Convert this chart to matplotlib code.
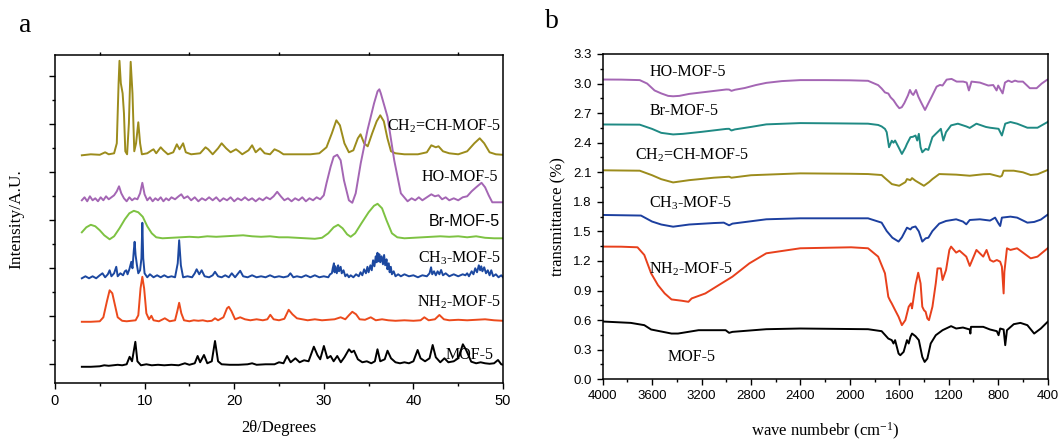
import matplotlib
matplotlib.use('Agg')
import matplotlib.pyplot as plt
from matplotlib.ticker import MultipleLocator

plt.rcParams['mathtext.fontset'] = 'custom'
plt.rcParams['mathtext.rm'] = 'Liberation Serif'
plt.rcParams['mathtext.it'] = 'Liberation Serif:italic'
plt.rcParams['mathtext.bf'] = 'Liberation Serif:bold'

SERIF = 'Liberation Serif'
SANS = 'Liberation Sans'

# ---------------- Panel a: XRD (2theta, intensity a.u.) ----------------
xrd_ch2ch = [(3.0, 228), (4.0, 229), (5.0, 228.5), (5.6, 231), (6.0, 229), (6.6, 230), (6.9, 240), (7.1, 300),
             (7.2, 322.5), (7.35, 300), (7.55, 290), (7.7, 270), (7.85, 232), (8.05, 229), (8.25, 260),
             (8.45, 321.5), (8.65, 290), (8.85, 232), (9.05, 240), (9.3, 261), (9.5, 240), (9.7, 229),
             (10.3, 230), (10.8, 233), (11.0, 234), (11.3, 230), (11.8, 236), (12.1, 233), (12.6, 229),
             (13.2, 231), (13.6, 239), (13.9, 234), (14.3, 240), (14.6, 231), (15.2, 229), (16.2, 230),
             (16.8, 236), (17.1, 234), (17.6, 229), (18.2, 235), (18.6, 240), (19.1, 235), (19.6, 231),
             (20.2, 234), (20.5, 232), (20.9, 229), (21.6, 233), (22.0, 238), (22.4, 231), (22.9, 235),
             (23.4, 230), (24.0, 229), (24.5, 234), (25.0, 232), (25.5, 229), (27.0, 229), (28.5, 229),
             (29.5, 230), (30.3, 236), (30.9, 250), (31.4, 263), (31.8, 258), (32.3, 240), (32.8, 231),
             (33.3, 233), (33.8, 245), (34.1, 249), (34.5, 240), (34.9, 237), (35.4, 250), (35.9, 262),
             (36.3, 268), (36.7, 262), (37.1, 245), (37.5, 232), (38.0, 230), (39.0, 229), (40.5, 229),
             (41.5, 231), (42.0, 238), (42.5, 236), (42.8, 237), (43.3, 232), (44.0, 230), (45.0, 229),
             (46.0, 232), (46.8, 240), (47.4, 245), (47.9, 240), (48.5, 231), (49.2, 229), (50.0, 228.5)]

xrd_ho = [(3.0, 183), (3.3, 186), (3.6, 182), (3.9, 187), (4.2, 183), (4.5, 185), (4.8, 182), (5.1, 186),
          (5.4, 183), (5.7, 187), (6.0, 184), (6.3, 186), (6.6, 188), (6.9, 192), (7.15, 197), (7.4, 190),
          (7.7, 185), (8.0, 182), (8.3, 186), (8.6, 183), (8.9, 185), (9.2, 184), (9.5, 190), (9.75, 200.5),
          (10.0, 189), (10.3, 183), (10.6, 186), (10.9, 182), (11.2, 185), (11.5, 183), (11.8, 186),
          (12.1, 182), (12.4, 185), (12.7, 183), (13.0, 186), (13.4, 184), (13.8, 187), (14.1, 189),
          (14.4, 185), (14.8, 187), (15.2, 183), (15.6, 186), (16.0, 182), (16.4, 185), (16.8, 183),
          (17.2, 186), (17.6, 183), (18.0, 186), (18.4, 182), (18.8, 185), (19.2, 183), (19.6, 186),
          (20.0, 182), (20.4, 185), (20.8, 183), (21.2, 186), (21.6, 183), (22.0, 185), (22.4, 182),
          (22.8, 185), (23.2, 183), (23.6, 186), (24.0, 184), (24.4, 187), (24.8, 191.5), (25.2, 187),
          (25.6, 183), (26.0, 185), (26.4, 182), (26.8, 185), (27.2, 183), (27.6, 186), (28.0, 182),
          (28.4, 185), (28.8, 183), (29.2, 186), (29.6, 184), (30.0, 188), (30.3, 200), (30.76, 216.5),
          (31.1, 226.5), (31.5, 228.5), (31.88, 223), (32.25, 203), (32.8, 183), (33.18, 180.5),
          (33.56, 190), (34.12, 220), (34.87, 253), (35.61, 280), (36.0, 292), (36.2, 294), (36.36, 290),
          (37.11, 266.5), (37.86, 223), (38.6, 190), (39.35, 182), (39.8, 185), (40.2, 183), (40.6, 186),
          (41.0, 183), (41.5, 186), (42.0, 189), (42.4, 187), (42.8, 188), (43.2, 184), (43.6, 186),
          (44.0, 183), (44.5, 185), (45.0, 183), (45.5, 186), (46.0, 187), (46.5, 192), (47.0, 196),
          (47.6, 200.5), (48.0, 196), (48.4, 188), (48.8, 181), (49.3, 181), (50.0, 181)]

xrd_br = [(3.0, 151), (3.5, 156), (4.0, 158.5), (4.5, 157), (5.0, 153), (5.5, 148), (6.1, 144), (6.6, 147),
          (7.2, 155), (7.8, 164), (8.3, 170), (8.8, 172.5), (9.3, 171), (9.8, 166.5), (10.3, 157),
          (10.8, 150), (11.3, 146), (12.0, 145), (13.0, 145.5), (14.0, 146), (15.0, 146.5), (16.0, 146),
          (17.0, 147), (18.0, 146.5), (19.0, 147), (20.0, 147.5), (21.0, 148), (22.0, 147), (23.0, 146.5),
          (24.0, 147), (25.0, 146), (26.0, 146), (27.0, 145.5), (28.0, 145), (29.0, 144.5), (29.8, 145.5),
          (30.5, 150), (31.1, 156), (31.6, 158.5), (32.1, 155), (32.6, 149), (33.0, 146.5), (33.5, 150),
          (34.2, 160), (35.0, 171), (35.6, 177.5), (36.0, 179.5), (36.5, 175), (37.0, 163), (37.6, 150),
          (38.2, 146), (39.0, 145), (40.0, 145.5), (41.0, 146), (42.0, 146.5), (43.0, 147), (44.0, 146.5),
          (45.0, 147), (46.0, 146), (47.0, 147), (48.0, 145.5), (49.0, 145), (50.0, 145)]

xrd_ch3 = [(3.0, 105), (3.4, 107), (3.8, 105), (4.2, 107), (4.6, 105), (5.0, 108), (5.3, 110), (5.6, 106),
           (5.9, 109), (6.1, 113), (6.3, 107), (6.6, 110), (6.84, 116.5), (7.0, 107), (7.3, 110), (7.6, 108),
           (7.8, 112), (7.96, 113), (8.1, 109), (8.3, 114), (8.52, 121.5), (8.65, 115), (8.8, 133),
           (8.89, 141.5), (9.0, 128), (9.15, 118), (9.3, 110), (9.5, 113), (9.65, 125), (9.75, 160.5),
           (9.85, 125), (10.0, 110), (10.3, 106), (10.6, 109), (11.0, 106), (11.4, 108), (11.8, 106),
           (12.2, 108), (12.6, 106), (13.0, 107), (13.4, 106), (13.7, 120), (13.86, 143), (14.05, 118),
           (14.3, 106), (14.8, 107), (15.3, 106), (15.6, 110), (15.81, 114), (16.1, 109), (16.37, 113),
           (16.7, 107), (17.2, 106), (17.6, 108), (17.86, 111.5), (18.2, 107), (18.6, 106), (19.0, 108),
           (19.4, 106), (19.73, 110), (20.1, 106), (20.67, 112.5), (21.0, 107), (21.5, 106), (22.0, 108),
           (22.5, 106), (23.0, 107), (23.5, 106), (24.0, 108), (24.5, 106), (25.0, 107), (25.5, 106),
           (26.0, 107), (26.27, 110), (26.6, 106), (27.0, 107), (27.5, 106), (28.0, 108), (28.5, 106),
           (29.0, 108), (29.5, 106), (30.0, 107), (30.5, 106), (30.7, 109), (30.9, 110), (31.0, 115),
           (31.13, 120), (31.2, 111), (31.3, 117), (31.45, 110), (31.6, 118), (31.7, 112), (31.88, 116.5),
           (32.0, 110), (32.2, 113), (32.4, 107), (32.6, 109), (32.8, 106), (33.0, 108), (33.3, 106),
           (33.6, 109), (33.9, 107), (34.1, 111), (34.3, 108), (34.5, 114), (34.7, 110), (34.87, 116.5),
           (35.0, 111), (35.2, 118), (35.35, 113), (35.5, 123), (35.65, 117), (35.8, 127), (35.9, 121),
           (35.99, 130.5), (36.1, 122), (36.2, 129), (36.3, 121), (36.45, 127), (36.6, 119), (36.73, 128.3),
           (36.85, 118), (37.0, 124), (37.1, 114), (37.25, 120), (37.35, 111), (37.48, 116.5), (37.6, 109),
           (37.8, 112), (38.0, 107), (38.3, 109), (38.6, 107), (39.0, 109), (39.5, 107), (40.0, 108),
           (40.5, 106), (41.0, 108), (41.5, 107), (41.8, 110), (41.97, 116), (42.1, 109), (42.3, 112),
           (42.5, 108), (42.7, 112), (42.9, 109), (43.09, 113.3), (43.3, 108), (43.6, 110), (44.0, 107),
           (44.5, 109), (45.0, 107), (45.5, 109), (45.8, 108), (46.0, 110), (46.2, 107), (46.5, 112),
           (46.7, 109), (46.9, 115), (47.1, 111), (47.3, 118), (47.45, 113), (47.57, 117), (47.7, 112),
           (47.9, 116), (48.1, 110), (48.3, 113), (48.5, 108), (48.69, 113), (48.9, 107), (49.2, 109),
           (49.5, 106), (49.8, 108), (50.0, 106)]

xrd_nh2 = [(3.0, 61.5), (4.0, 61.5), (5.0, 62), (5.4, 66), (5.8, 82), (6.1, 93), (6.4, 90), (6.7, 78),
           (7.0, 66), (7.5, 62.5), (8.0, 62), (8.5, 62.5), (9.0, 63), (9.3, 68), (9.55, 95), (9.75, 106.5),
           (9.95, 95), (10.2, 70), (10.5, 64), (10.76, 67.5), (11.0, 63), (11.6, 62), (12.26, 65),
           (12.8, 62), (13.4, 63), (13.65, 72), (13.86, 80.5), (14.1, 70), (14.4, 63), (15.0, 62),
           (15.5, 63), (16.0, 62.5), (16.5, 63), (17.0, 62), (17.5, 62.5), (17.86, 65), (18.2, 63),
           (18.8, 66), (19.2, 75), (19.4, 76.5), (19.7, 72), (20.1, 64), (20.67, 66), (21.2, 64),
           (21.8, 63), (22.5, 64), (23.2, 63), (23.7, 64), (24.03, 68.5), (24.4, 64), (25.0, 63),
           (25.6, 64.5), (26.08, 73.5), (26.5, 69), (27.0, 65), (27.6, 64), (28.2, 63), (29.0, 64),
           (29.8, 63), (30.5, 63.5), (31.2, 64), (31.88, 66), (32.4, 64), (32.8, 68), (33.18, 71.5),
           (33.6, 69), (34.0, 64), (34.6, 63.5), (35.24, 66), (35.8, 63), (36.5, 64), (37.2, 63),
           (38.0, 62.5), (39.0, 63), (40.0, 62.5), (40.8, 63), (41.22, 66), (41.7, 63), (42.4, 64),
           (42.9, 68.3), (43.4, 64), (44.0, 63), (45.0, 63.5), (46.0, 63), (47.0, 63.5), (48.0, 64),
           (49.0, 63), (50.0, 62.5)]

xrd_mof5 = [(3.0, 16.5), (4.0, 16.5), (5.0, 17), (5.5, 18), (6.0, 17.5), (6.5, 18), (7.0, 18.5), (7.5, 18),
            (8.0, 19), (8.33, 26.5), (8.6, 22), (8.97, 41.5), (9.2, 22), (9.6, 18), (10.2, 19), (10.8, 18),
            (11.5, 18.5), (12.2, 18), (13.0, 18.5), (13.8, 18), (14.5, 20), (15.0, 18.5), (15.6, 20),
            (15.92, 27.3), (16.2, 21), (16.63, 28.3), (17.0, 20), (17.5, 22), (17.86, 42.3), (18.2, 22),
            (18.6, 19), (19.5, 18.5), (20.5, 18.5), (21.5, 19), (22.0, 20), (22.5, 18.5), (23.5, 19),
            (24.5, 19), (25.0, 21), (25.5, 20), (25.9, 27.3), (26.3, 21), (26.83, 25), (27.3, 21),
            (27.8, 23), (28.3, 22), (28.89, 36.6), (29.3, 28), (29.6, 24), (30.01, 37.3), (30.4, 25),
            (30.76, 27.3), (31.1, 22), (31.5, 27.3), (31.9, 21), (32.3, 26), (32.81, 34), (33.1, 31),
            (33.37, 32.6), (33.8, 24), (34.3, 21), (34.8, 22), (35.3, 20), (35.7, 22), (35.99, 34),
            (36.3, 22), (36.8, 24), (37.11, 32.6), (37.5, 25), (38.0, 21), (38.5, 20), (39.0, 21),
            (39.5, 20), (40.0, 22), (40.47, 33.3), (40.8, 25), (41.3, 22), (41.8, 25), (42.15, 38.3),
            (42.5, 26), (43.0, 21), (43.46, 25), (43.9, 21), (44.5, 22), (45.0, 25), (45.52, 39),
            (45.9, 33), (46.45, 21.6), (47.0, 20), (47.5, 21), (48.0, 20), (48.5, 19.5), (49.0, 20),
            (49.44, 23.3), (49.8, 19), (50.0, 18.5)]

# ---------------- Panel b: FTIR (wavenumber, transmittance) ----------------
ir_ho = [(4000, 3.041), (3850, 3.040), (3700, 3.035), (3640, 3.00), (3580, 2.93), (3526, 2.90), (3470, 2.875),
         (3430, 2.871), (3380, 2.875), (3300, 2.895), (3200, 2.91), (3100, 2.925), (3000, 2.94), (2977, 2.939),
         (2958, 2.926), (2930, 2.937), (2850, 2.955), (2760, 2.985), (2676, 3.007), (2550, 3.025), (2401, 3.035),
         (2200, 3.035), (2000, 3.033), (1853, 3.028), (1771, 2.984), (1743, 2.95), (1716, 2.91), (1689, 2.899),
         (1670, 2.86), (1647, 2.831), (1620, 2.78), (1600, 2.75), (1580, 2.76), (1560, 2.80), (1530, 2.88),
         (1514, 2.935), (1500, 2.90), (1487, 2.884), (1465, 2.935), (1446, 2.867), (1420, 2.80), (1392, 2.732),
         (1365, 2.80), (1338, 2.867), (1298, 2.969), (1271, 2.986), (1250, 2.98), (1217, 3.04), (1177, 3.047),
         (1136, 3.02), (1083, 3.02), (1055, 3.01), (1037, 2.93), (1016, 3.02), (948, 3.01), (880, 2.98),
         (840, 2.985), (813, 2.93), (800, 2.98), (764, 2.90), (745, 3.01), (718, 3.03), (690, 3.015),
         (664, 3.03), (640, 3.02), (600, 3.02), (544, 2.953), (489, 2.953), (448, 3.0), (408, 3.035), (400, 3.04)]

ir_br = [(4000, 2.585), (3700, 2.583), (3600, 2.54), (3526, 2.50), (3430, 2.484), (3350, 2.49), (3200, 2.51),
         (3000, 2.54), (2977, 2.541), (2958, 2.524), (2930, 2.535), (2800, 2.56), (2676, 2.586), (2401, 2.599),
         (2100, 2.596), (1853, 2.593), (1771, 2.58), (1743, 2.565), (1716, 2.54), (1702, 2.507), (1683, 2.354),
         (1661, 2.42), (1647, 2.40), (1634, 2.422), (1606, 2.354), (1579, 2.286), (1551, 2.35), (1538, 2.388),
         (1510, 2.456), (1490, 2.46), (1469, 2.473), (1455, 2.422), (1442, 2.49), (1428, 2.354), (1414, 2.303),
         (1387, 2.337), (1365, 2.327), (1332, 2.456), (1305, 2.490), (1277, 2.524), (1264, 2.541), (1244, 2.422),
         (1222, 2.507), (1181, 2.576), (1126, 2.593), (1058, 2.565), (1030, 2.55), (976, 2.593), (900, 2.56),
         (866, 2.552), (797, 2.541), (770, 2.473), (743, 2.593), (701, 2.610), (647, 2.593), (564, 2.552),
         (482, 2.552), (400, 2.610)]

ir_ch2ch = [(4000, 2.12), (3700, 2.116), (3600, 2.07), (3526, 2.03), (3430, 1.997), (3300, 2.02), (3100, 2.045),
            (2977, 2.055), (2958, 2.045), (2800, 2.07), (2401, 2.089), (2000, 2.085), (1853, 2.082),
            (1743, 2.072), (1716, 2.041), (1660, 1.98), (1601, 1.963), (1551, 2.00), (1538, 2.031),
            (1510, 2.02), (1497, 2.041), (1469, 2.014), (1401, 1.963), (1360, 2.00), (1332, 2.031),
            (1277, 2.082), (1140, 2.076), (1030, 2.065), (920, 2.08), (866, 2.082), (784, 2.055), (770, 2.065),
            (756, 2.116), (674, 2.116), (600, 2.10), (537, 2.072), (482, 2.08), (400, 2.123)]

ir_ch3 = [(4000, 1.667), (3690, 1.661), (3600, 1.60), (3526, 1.57), (3430, 1.548), (3300, 1.57), (3100, 1.585),
          (3020, 1.589), (2977, 1.562), (2950, 1.579), (2676, 1.623), (2401, 1.633), (2000, 1.633),
          (1853, 1.633), (1743, 1.589), (1702, 1.504), (1656, 1.436), (1606, 1.397), (1579, 1.44),
          (1538, 1.538), (1510, 1.52), (1497, 1.54), (1469, 1.55), (1442, 1.50), (1414, 1.397), (1387, 1.43),
          (1365, 1.436), (1332, 1.504), (1277, 1.579), (1222, 1.606), (1140, 1.623), (1085, 1.60),
          (1058, 1.572), (1030, 1.616), (948, 1.623), (866, 1.61), (825, 1.64), (797, 1.579), (784, 1.555),
          (770, 1.64), (701, 1.65), (647, 1.64), (564, 1.589), (509, 1.596), (455, 1.62), (400, 1.670)]

ir_nh2 = [(4000, 1.346), (3850, 1.345), (3718, 1.339), (3663, 1.261), (3608, 1.075), (3553, 0.956),
          (3498, 0.871), (3443, 0.810), (3361, 0.797), (3306, 0.786), (3280, 0.82), (3169, 0.871),
          (3060, 0.956), (2950, 1.041), (2813, 1.176), (2676, 1.278), (2401, 1.329), (1990, 1.339),
          (1853, 1.329), (1771, 1.244), (1716, 1.075), (1689, 0.837), (1675, 0.80), (1661, 0.769),
          (1634, 0.702), (1606, 0.634), (1579, 0.549), (1551, 0.600), (1524, 0.736), (1505, 0.770),
          (1497, 0.719), (1469, 0.956), (1447, 1.081), (1428, 0.973), (1414, 0.736), (1400, 0.70),
          (1387, 0.685), (1373, 0.617), (1360, 0.600), (1332, 0.736), (1305, 0.973), (1291, 1.125),
          (1264, 1.125), (1250, 1.007), (1222, 1.108), (1195, 1.312), (1181, 1.346), (1140, 1.285),
          (1113, 1.305), (1058, 1.244), (1030, 1.15), (976, 1.312), (921, 1.244), (894, 1.312),
          (866, 1.210), (839, 1.193), (811, 1.210), (784, 1.193), (770, 1.142), (756, 0.871), (750, 1.09),
          (729, 1.329), (701, 1.312), (647, 1.329), (592, 1.278), (537, 1.227), (482, 1.244), (400, 1.329)]

ir_mof5 = [(4000, 0.586), (3772, 0.572), (3663, 0.549), (3608, 0.505), (3443, 0.464), (3390, 0.464),
           (3224, 0.498), (3005, 0.498), (2977, 0.471), (2950, 0.481), (2676, 0.508), (2401, 0.515),
           (1853, 0.508), (1743, 0.488), (1689, 0.413), (1661, 0.397), (1647, 0.363), (1634, 0.397),
           (1606, 0.261), (1592, 0.244), (1565, 0.278), (1538, 0.397), (1524, 0.363), (1510, 0.430),
           (1497, 0.464), (1469, 0.437), (1442, 0.397), (1414, 0.227), (1395, 0.176), (1373, 0.210),
           (1346, 0.363), (1305, 0.447), (1250, 0.498), (1181, 0.539), (1140, 0.515), (1085, 0.525),
           (1030, 0.505), (1025, 0.464), (1020, 0.532), (921, 0.532), (866, 0.505), (811, 0.488),
           (797, 0.447), (784, 0.515), (756, 0.505), (743, 0.346), (729, 0.498), (674, 0.559),
           (620, 0.572), (564, 0.549), (509, 0.464), (455, 0.515), (400, 0.583)]

fig = plt.figure(figsize=(10.61, 4.40), dpi=100)
axa = fig.add_axes([0.0518, 0.1289, 0.4223, 0.7461])
axb = fig.add_axes([0.568, 0.138, 0.4194, 0.7393])

LW = 1.4
col_a = {'ch2ch': '#9c8c1c', 'ho': '#a466b4', 'br': '#7dc242', 'ch3': '#1c48a0', 'nh2': '#ec4a1c', 'mof5': '#000000'}
for key, series in [('ch2ch', xrd_ch2ch), ('ho', xrd_ho), ('br', xrd_br), ('ch3', xrd_ch3),
                    ('nh2', xrd_nh2), ('mof5', xrd_mof5)]:
    xs = [p[0] for p in series]
    ys = [p[1] for p in series]
    axa.plot(xs, ys, color=col_a[key], lw=LW)

axa.set_xlim(0, 50)
axa.set_ylim(0, 328.3)
axa.xaxis.set_major_locator(MultipleLocator(10))
axa.xaxis.set_minor_locator(MultipleLocator(5))
axa.set_yticks([19, 67, 115, 163, 211, 259, 307])
axa.set_yticks([43, 91, 139, 187, 235, 283], minor=True)
axa.set_yticklabels([])
axa.tick_params(which='both', direction='out', width=1, labelsize=10.5)
axa.tick_params(which='major', length=4.5)
axa.tick_params(which='minor', length=2.5, top=True)
for lab in axa.get_xticklabels():
    lab.set_fontfamily(SANS)
for s in axa.spines.values():
    s.set_linewidth(1.1)
axa.set_xlabel('2θ/Degrees', fontfamily=SERIF, fontsize=12, labelpad=8)
axa.set_ylabel('Intensity/A.U.', fontfamily=SERIF, fontsize=12.5, labelpad=14)

lab_kw = dict(fontsize=11.5, ha='right', va='center')
axa.text(49.8, 257.3, r'CH$_2$=CH-MOF-5', fontfamily=SERIF, **lab_kw)
axa.text(49.4, 206.6, 'HO-MOF-5', fontfamily=SERIF, **lab_kw)
axa.text(49.7, 161.6, 'Br-MOF-5', fontfamily=SANS, **lab_kw)
axa.text(49.8, 125.0, r'CH$_3$-MOF-5', fontfamily=SERIF, **lab_kw)
axa.text(49.8, 80.6, r'NH$_2$-MOF-5', fontfamily=SERIF, **lab_kw)
axa.text(49.0, 28.3, 'MOF-5', fontfamily=SERIF, **lab_kw)

col_b = {'ho': '#a466b4', 'br': '#1f8a84', 'ch2ch': '#9c8c1c', 'ch3': '#1c3f9f', 'nh2': '#e8401c', 'mof5': '#000000'}
for key, series in [('ho', ir_ho), ('br', ir_br), ('ch2ch', ir_ch2ch), ('ch3', ir_ch3),
                    ('nh2', ir_nh2), ('mof5', ir_mof5)]:
    xs = [p[0] for p in series]
    ys = [p[1] for p in series]
    axb.plot(xs, ys, color=col_b[key], lw=LW)

axb.set_xlim(4000, 400)
axb.set_ylim(0, 3.3)
axb.xaxis.set_major_locator(MultipleLocator(400))
axb.xaxis.set_minor_locator(MultipleLocator(200))
axb.yaxis.set_major_locator(MultipleLocator(0.3))
axb.yaxis.set_minor_locator(MultipleLocator(0.15))
axb.yaxis.set_major_formatter(plt.FuncFormatter(lambda v, p: f'{v:.1f}'))
axb.tick_params(which='both', direction='out', width=1, labelsize=9.5)
axb.tick_params(which='major', length=4.5)
axb.tick_params(which='minor', length=2.5)
for lab in axb.get_xticklabels() + axb.get_yticklabels():
    lab.set_fontfamily(SANS)
for s in axb.spines.values():
    s.set_linewidth(1.1)
axb.set_xlabel(r'wave numbebr (cm$^{-1}$)', fontfamily=SERIF, fontsize=12, labelpad=13)
axb.set_ylabel('transmittance (%)', fontfamily=SERIF, fontsize=12, labelpad=5)

lb_kw = dict(fontsize=11.5, ha='left', va='center')
axb.text(3622, 3.12, 'HO-MOF-5', fontfamily=SERIF, **lb_kw)
axb.text(3622, 2.72, 'Br-MOF-5', fontfamily=SERIF, **lb_kw)
axb.text(3740, 2.27, r'CH$_2$=CH-MOF-5', fontfamily=SERIF, **lb_kw)
axb.text(3622, 1.79, r'CH$_3$-MOF-5', fontfamily=SERIF, **lb_kw)
axb.text(3622, 1.115, r'NH$_2$-MOF-5', fontfamily=SERIF, **lb_kw)
axb.text(3471, 0.227, 'MOF-5', fontfamily=SERIF, **lb_kw)

fig.text(25 / 1061, 1 - 25 / 440, 'a', fontfamily=SERIF, fontsize=20, ha='center', va='center')
fig.text(552 / 1061, 1 - 22 / 440, 'b', fontfamily=SERIF, fontsize=20, ha='center', va='center')

fig.savefig('out.png', dpi=100)
